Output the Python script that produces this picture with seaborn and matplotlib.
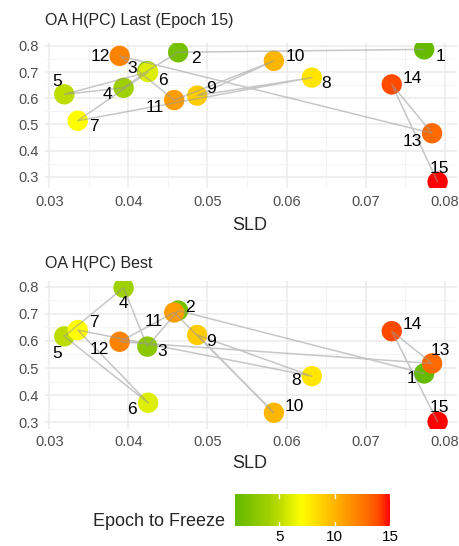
import numpy as np
import pandas as pd
import seaborn as sns
import matplotlib.pyplot as plt
import matplotlib as mpl
from matplotlib.colors import LinearSegmentedColormap, Normalize

sns.set_theme(style="whitegrid")
plt.rcParams['font.family'] = ['Liberation Sans', 'DejaVu Sans']

# data
epochs = list(range(1, 16))
sld = [0.0774, 0.0463, 0.0424, 0.0394, 0.0319, 0.0425, 0.0336, 0.0632,
       0.0487, 0.0584, 0.0458, 0.0389, 0.0784, 0.0733, 0.0791]
oa_last = [0.787, 0.776, 0.704, 0.640, 0.615, 0.700, 0.514, 0.679,
           0.610, 0.743, 0.593, 0.762, 0.466, 0.653, 0.280]
oa_best = [0.480, 0.712, 0.579, 0.796, 0.617, 0.372, 0.640, 0.470,
           0.622, 0.335, 0.705, 0.597, 0.517, 0.636, 0.302]

# label offsets in pixels (dx right, dy down)
off_last = [(16, 7), (18, 6), (-15, -3), (-16, 7), (-7, -13), (15, 8), (16, 6), (14, 6),
            (14, -7), (21, -4), (-19, 7), (-19, 1), (-20, 8), (21, -6), (2, -13)]
off_best = [(-13, 5), (12, -3), (15, 5), (0, 16), (-7, 17), (-16, 7), (16, -8), (-16, 4),
            (14, 7), (20, -6), (-20, 9), (-20, 8), (8, -13), (21, -7), (2, -14)]

cmap = LinearSegmentedColormap.from_list(
    "freeze", [(0.0, "#66BB00"), (0.071, "#77C000"), (0.143, "#8CC800"), (0.214, "#A0D000"),
               (0.286, "#BDDC00"), (0.357, "#DDEE00"), (0.43, "#FFFF00"), (0.5, "#FFE600"),
               (0.571, "#FFCC00"), (0.643, "#FFB600"), (0.714, "#FF9C00"), (0.786, "#FF8400"),
               (0.857, "#FF6A00"), (0.929, "#FF4A00"), (1.0, "#FF0000")])
norm = Normalize(1, 15)

W, H = 459, 546
fig = plt.figure(figsize=(W / 100, H / 100), dpi=100)


def px_axes(left, top, right, bottom):
    return fig.add_axes([left / W, 1 - bottom / H, (right - left) / W, (bottom - top) / H])


def panel(ax, oa, offsets, ylim):
    df = pd.DataFrame({"SLD": sld, "OA": oa, "epoch": epochs})
    sns.scatterplot(data=df, x="SLD", y="OA", hue="epoch", palette=cmap, hue_norm=norm,
                    s=215, linewidth=0, legend=False, ax=ax, zorder=2)
    sns.lineplot(data=df, x="SLD", y="OA", sort=False, estimator=None, color="#999999",
                 alpha=0.55, linewidth=1.1, ax=ax, zorder=3)
    for e, x, y, (dx, dy) in zip(epochs, sld, oa, offsets):
        ax.annotate(str(e), (x, y), xytext=(dx, -dy), textcoords="offset pixels",
                    ha="center", va="center", fontsize=12.5, color="black", zorder=4)
    ax.set_xlim(0.0295, 0.0815)
    ax.set_ylim(*ylim)
    ax.set_xticks([0.03, 0.04, 0.05, 0.06, 0.07, 0.08])
    ax.set_xticklabels(["0.03", "0.04", "0.05", "0.06", "0.07", "0.08"])
    ax.set_yticks([0.3, 0.4, 0.5, 0.6, 0.7, 0.8])
    ax.set_yticklabels(["0.3", "0.4", "0.5", "0.6", "0.7", "0.8"])
    ax.set_xticks(np.arange(0.035, 0.08, 0.01), minor=True)
    ax.set_yticks(np.arange(0.35, 0.8, 0.1), minor=True)
    ax.grid(which="major", color="#EBEBEB", linewidth=1.1)
    ax.grid(which="minor", color="#F2F2F2", linewidth=0.6)
    ax.tick_params(which="both", length=0, labelsize=10.5, labelcolor="#4D4D4D", pad=5)
    ax.set_facecolor("white")
    for s in ax.spines.values():
        s.set_visible(False)
    ax.set_xlabel("")
    ax.set_ylabel("")


ax1 = px_axes(45.3, 42.7, 456.6, 188.4)
panel(ax1, oa_last, off_last, (0.255, 0.8125))
ax2 = px_axes(45.3, 281, 456.6, 428.5)
panel(ax2, oa_best, off_best, (0.277, 0.821))

fig.text(45 / W, 1 - 20 / H, "OA H(PC) Last (Epoch 15)", fontsize=11.5, ha="left", va="center")
fig.text(45 / W, 1 - 263 / H, "OA H(PC) Best", fontsize=11.5, ha="left", va="center")
fig.text(250 / W, 1 - 225 / H, "SLD", fontsize=13, ha="center", va="center")
fig.text(250 / W, 1 - 463 / H, "SLD", fontsize=13, ha="center", va="center")

# colour legend
cax = px_axes(235, 494, 390, 526)
cb = mpl.colorbar.ColorbarBase(cax, cmap=cmap, norm=norm, orientation="horizontal")
cb.outline.set_visible(False)
cb.set_ticks([5, 10, 15])
cax.tick_params(length=0, labelsize=11, pad=3, labelcolor="black")
for v in [5, 10, 15]:
    cax.plot([v, v], [0, 0.12], color="white", lw=1)
    cax.plot([v, v], [0.88, 1], color="white", lw=1)
fig.text(225 / W, 1 - 521 / H, "Epoch to Freeze", fontsize=13, ha="right", va="center")

fig.savefig("out.png", dpi=100, facecolor="white")
